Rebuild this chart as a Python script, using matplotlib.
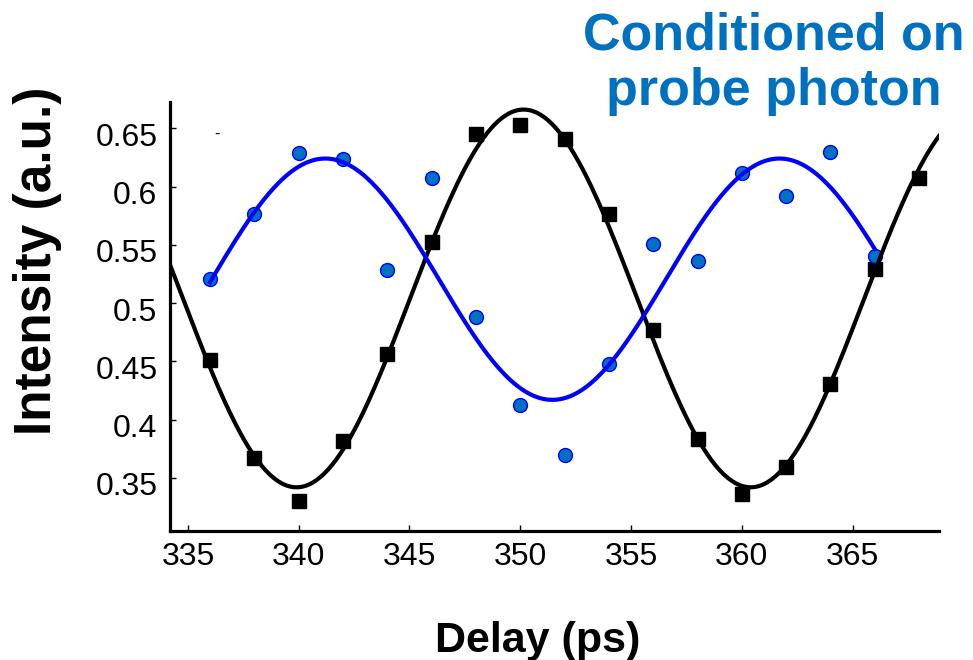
import numpy as np
import matplotlib
matplotlib.use("Agg")
import matplotlib.pyplot as plt
from matplotlib.transforms import ScaledTranslation

plt.rcParams['font.family'] = ['Liberation Sans', 'DejaVu Sans']

# Measured intensities vs. delay
delay = [336, 338, 340, 342, 344, 346, 348, 350, 352, 354, 356, 358, 360, 362, 364, 366, 368]
intensity_all = [0.451, 0.367, 0.330, 0.382, 0.456, 0.552, 0.645, 0.653, 0.641,
                 0.576, 0.477, 0.383, 0.336, 0.359, 0.431, 0.529, 0.607]

delay_cond = [336, 338, 340, 342, 344, 346, 348, 350, 352, 354, 356, 358, 360, 362, 364, 366]
intensity_cond = [0.521, 0.576, 0.629, 0.624, 0.528, 0.607, 0.488, 0.413, 0.370,
                  0.448, 0.551, 0.536, 0.612, 0.592, 0.630, 0.540]

# Sinusoidal fit parameters: offset, amplitude, peak position, period
fit_all = dict(offset=0.504, amp=0.162, peak=350.15, period=20.5)
fit_cond = dict(offset=0.5205, amp=0.1035, peak=341.2, period=20.5)

x_ticks = [335, 340, 345, 350, 355, 360, 365]
y_ticks = [0.35, 0.4, 0.45, 0.5, 0.55, 0.6, 0.65]
y_ticklabels = ['0.35', '0.4', '0.45', '0.5', '0.55', '0.6', '0.65']
x_limits = (334.19, 368.9)
y_limits = (0.3045, 0.6725)


def sine(x, p):
    return p['offset'] + p['amp'] * np.cos(2 * np.pi * (x - p['peak']) / p['period'])


fig = plt.figure(figsize=(9.73, 6.6), dpi=100)
ax = fig.add_axes([170 / 973, 1 - 531 / 660, (939 - 170) / 973, (531 - 102) / 660])

blue_text = '#0070C0'

ax.plot(delay, intensity_all, linestyle='none', marker='s', markersize=10.5,
        color='black', zorder=3)
ax.plot(delay_cond, intensity_cond, linestyle='none', marker='o', markersize=10,
        markerfacecolor=blue_text, markeredgecolor='#0000FF', markeredgewidth=1.0,
        zorder=4)

xf_all = np.linspace(x_limits[0], x_limits[1], 400)
ax.plot(xf_all, sine(xf_all, fit_all), color='black', lw=3.0, zorder=5)
xf_cond = np.linspace(delay_cond[0], delay_cond[-1], 400)
ax.plot(xf_cond, sine(xf_cond, fit_cond), color='#0000FF', lw=3.0, zorder=6)

ax.set_xlim(*x_limits)
ax.set_ylim(*y_limits)
ax.set_xticks(x_ticks)
ax.set_yticks(y_ticks)
ax.set_yticklabels(y_ticklabels)

for side in ('top', 'right'):
    ax.spines[side].set_visible(False)
for side in ('left', 'bottom'):
    ax.spines[side].set_linewidth(2.3)

ax.tick_params(axis='both', direction='in', length=4, width=1.0, labelsize=23)
ax.tick_params(axis='x', pad=8)
ax.tick_params(axis='y', pad=9)

# y tick labels sit slightly below their ticks
shift = ScaledTranslation(0, -6 / 100, fig.dpi_scale_trans)
for lab in ax.get_yticklabels():
    lab.set_transform(lab.get_transform() + shift)

# small stray dash near the upper-left of the plot area
ax.text(0.061, 0.925, '-', transform=ax.transAxes, fontsize=12,
        ha='center', va='center', color='black')

fig.text(37.5 / 973, 1 - 261 / 660, 'Intensity (a.u.)', rotation=90,
         ha='center', va='center', fontsize=37, fontweight='bold')
fig.text(538 / 973, 1 - 652 / 660, 'Delay (ps)', ha='center', va='baseline',
         fontsize=31, fontweight='bold')

fig.text(773.5 / 973, 1 - 49 / 660, 'Conditioned on', ha='center', va='baseline',
         fontsize=37.5, fontweight='bold', color=blue_text)
fig.text(773.5 / 973, 1 - 105 / 660, 'probe photon', ha='center', va='baseline',
         fontsize=37.5, fontweight='bold', color=blue_text)

fig.savefig('out.png', dpi=100)
